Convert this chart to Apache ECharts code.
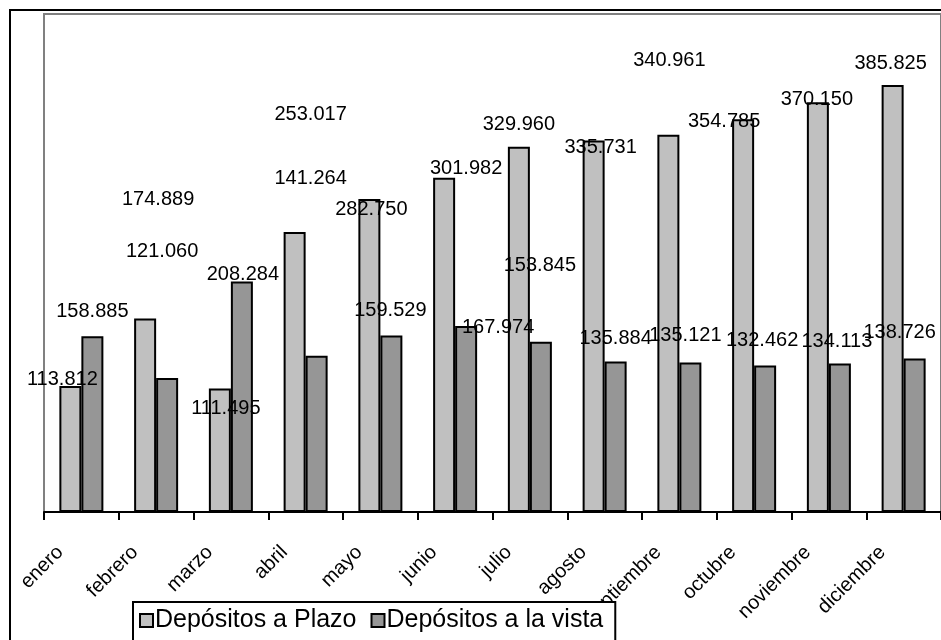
<!DOCTYPE html>
<html>
<head>
<meta charset="utf-8">
<title>Depósitos</title>
<script src="https://cdn.jsdelivr.net/npm/echarts@6/dist/echarts.min.js"></script>
<style>
	html, body { margin: 0; padding: 0; background: #fff; }
	#echart { width: 941px; height: 640px; }
</style>
</head>
<body>
<div id="echart"></div>
<script>
'use strict'

var categories = ['enero', 'febrero', 'marzo', 'abril', 'mayo', 'junio', 'julio', 'agosto', 'septiembre', 'octubre', 'noviembre', 'diciembre'];
var plazo = [113812, 174889, 111495, 253017, 282750, 301982, 329960, 335731, 340961, 354785, 370150, 385825];
var vista = [158885, 121060, 208284, 141264, 159529, 167974, 153845, 135884, 135121, 132462, 134113, 138726];
var seriesNames = ['Depósitos a Plazo', 'Depósitos a la vista'];

// where Excel dropped each value label, relative to the top of its bar
var plazoLabelOffset = [[-8, 3], [13, -109], [6, 29], [16, -108], [2, 20], [22, 0], [0, -13], [7, 17], [1, -65], [-19, 12], [-1, 7], [-2, -12]];
var vistaLabelOffset = [[0, -15], [-5, -117], [1, 2], [-6, -168], [-1, -15], [32, 11], [-1, -67], [0, -14], [-5, -17], [-3, -15], [-3, -13], [-15, -16]];

var font = "'Liberation Sans', Arial, sans-serif";

function miles(v) {
	return String(v).replace(/\B(?=(\d{3})+(?!\d))/g, '.');
}

function withLabels(values, offsets) {
	return values.map(function(v, i) {
		return {
			value: v,
			label: { offset: offsets[i] }
		};
	});
}

/*-----Barchart-----*/
var barLabel = {
	show: true,
	position: 'top',
	distance: 0,
	color: '#000',
	fontFamily: font,
	fontSize: 20,
	lineHeight: 19,
	formatter: function(p) { return miles(p.value); }
};

var chartdata = [{
	name: seriesNames[0],
	type: 'bar',
	barWidth: 22,
	barGap: '0%',
	data: withLabels(plazo, plazoLabelOffset),
	label: barLabel,
	itemStyle: {
		color: '#c0c0c0',
		borderColor: '#000',
		borderWidth: 2
	}
}, {
	name: seriesNames[1],
	type: 'bar',
	barWidth: 22,
	barGap: '0%',
	data: withLabels(vista, vistaLabelOffset),
	label: barLabel,
	itemStyle: {
		color: '#969696',
		borderColor: '#000',
		borderWidth: 2
	}
}];

var chart = document.getElementById('echart');
var barChart = echarts.init(chart, null, { renderer: 'canvas' });
var option = {
	animation: false,
	backgroundColor: '#fff',
	grid: {
		show: true,
		left: 44,
		top: 14,
		width: 903,
		height: 498,
		borderColor: '#808080',
		borderWidth: 2,
		backgroundColor: 'transparent'
	},
	xAxis: {
		type: 'category',
		data: categories,
		axisLine: {
			lineStyle: { color: '#000', width: 2 }
		},
		axisTick: {
			show: true,
			length: 8,
			lineStyle: { color: '#000', width: 2 }
		},
		axisLabel: {
			interval: 0,
			rotate: 45,
			margin: 16,
			// trailing blank slides each name back down its slant, like Excel
			formatter: function(v) { return '{t|' + v + '}{s|}'; },
			rich: {
				t: { color: '#000', fontFamily: font, fontSize: 20 },
				s: { width: 30 }
			}
		},
		splitLine: { show: false }
	},
	yAxis: {
		type: 'value',
		min: 0,
		max: 450000,
		axisLine: { show: false },
		axisTick: { show: false },
		axisLabel: { show: false },
		splitLine: { show: false }
	},
	legend: {
		data: seriesNames,
		left: 133,
		top: 602,
		orient: 'horizontal',
		backgroundColor: '#fff',
		borderColor: '#000',
		borderWidth: 2,
		borderRadius: 0,
		padding: [6, 12, 30, 6],
		itemWidth: 13,
		itemHeight: 13,
		itemGap: 14,
		icon: 'rect',
		textStyle: {
			color: '#000',
			fontFamily: font,
			fontSize: 25,
			padding: [0, 0, 0, -3]
		}
	},
	graphic: [{
		type: 'rect',
		z: 100,
		silent: true,
		shape: { x: 10, y: 10, width: 2000, height: 2000 },
		style: { fill: 'none', stroke: '#000', lineWidth: 2 }
	}],
	series: chartdata
};
barChart.setOption(option);
/*-----Barchart-----*/
</script>
</body>
</html>
